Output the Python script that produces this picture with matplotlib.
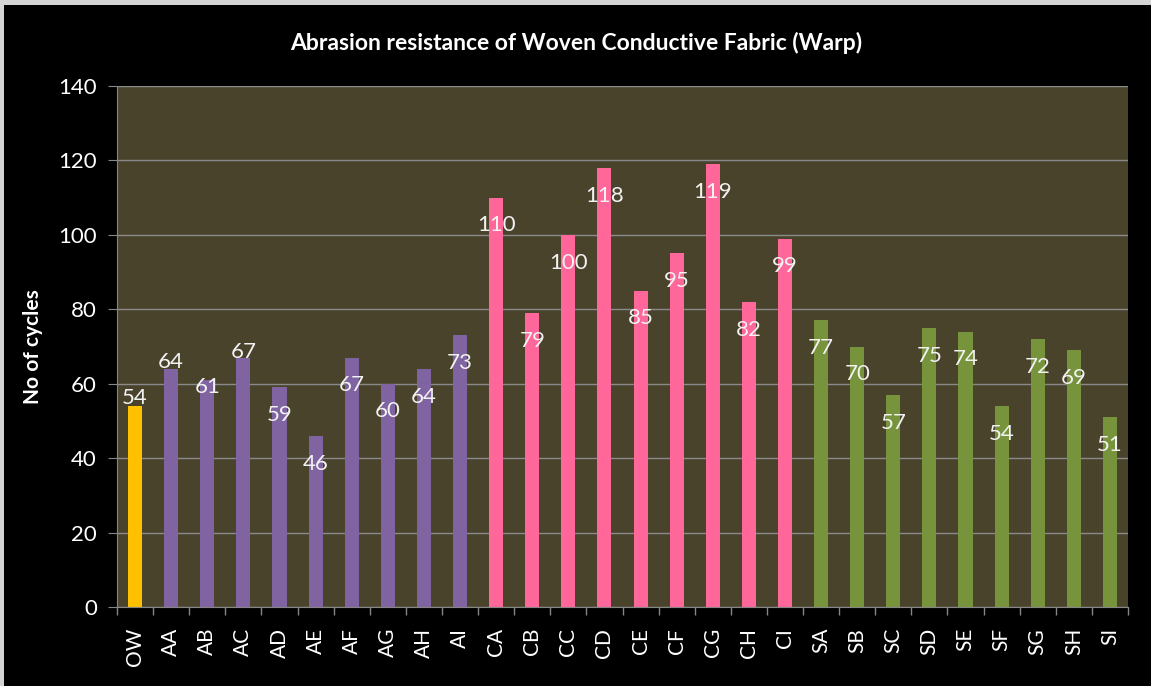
import matplotlib.pyplot as plt
from matplotlib.patches import Rectangle

plt.rcParams['font.family'] = ['Lato', 'DejaVu Sans']

samples = ['OW', 'AA', 'AB', 'AC', 'AD', 'AE', 'AF', 'AG', 'AH', 'AI',
           'CA', 'CB', 'CC', 'CD', 'CE', 'CF', 'CG', 'CH', 'CI',
           'SA', 'SB', 'SC', 'SD', 'SE', 'SF', 'SG', 'SH', 'SI']
cycles = [54, 64, 61, 67, 59, 46, 67, 60, 64, 73,
          110, 79, 100, 118, 85, 95, 119, 82, 99,
          77, 70, 57, 75, 74, 54, 72, 69, 51]
groups = ['O'] + ['A'] * 9 + ['C'] * 9 + ['S'] * 9

group_colors = {'O': '#FFC000', 'A': '#8064A2', 'C': '#FF6699', 'S': '#77933C'}
# label offsets in points (excel put a few above the bar, the rest inside)
label_dy = [6, 5, -5, 4] + [-20] * 24

fig = plt.figure(figsize=(11.51, 6.86), dpi=100)
fig.patch.set_facecolor('#d4d4d4')
fig.patches.append(Rectangle((4 / 1151, 0), 1, 1 - 5 / 686, transform=fig.transFigure,
                             facecolor='black', edgecolor='none', zorder=-10))

ax = fig.add_axes([117 / 1151, 1 - 607 / 686, (1128 - 117) / 1151, (607 - 86) / 686])
ax.set_zorder(1)
ax.set_facecolor('#4A432C')

x = list(range(len(samples)))
colors = [group_colors[g] for g in groups]
ax.bar(x, cycles, width=0.39, color=colors, zorder=3)

for xi, v, dy in zip(x, cycles, label_dy):
    ax.annotate(str(v), (xi, v), xytext=(0, dy), textcoords='offset points',
                ha='center', va='center', color='#f2f2f2', fontsize=16, zorder=4)

ax.set_xlim(-0.5, len(samples) - 0.5)
ax.set_ylim(0, 140)
ax.set_yticks(range(0, 141, 20))
ax.set_xticks(x)
ax.set_xticklabels(samples, rotation=90, color='white', fontsize=15)
ax.set_xticks([i - 0.5 for i in range(len(samples) + 1)], minor=True)
ax.tick_params(axis='x', which='major', length=0, pad=15)
ax.tick_params(axis='x', which='minor', length=6, color='#868686', width=1)
ax.tick_params(axis='y', length=6.5, color='#868686', labelcolor='white', labelsize=16, pad=8)

ax.grid(axis='y', color='#8a8a8a', linewidth=1, zorder=1)
for s in ['top', 'right']:
    ax.spines[s].set_visible(False)
for s in ['left', 'bottom']:
    ax.spines[s].set_color('#868686')
    ax.spines[s].set_zorder(5)

ax.set_ylabel('No of cycles', color='white', fontsize=15, fontweight='bold')
ax.yaxis.set_label_coords(-0.073, 0.5)
fig.text(0.501, 1 - 43 / 686, 'Abrasion resistance of Woven Conductive Fabric (Warp)',
         ha='center', va='center', color='white', fontsize=16.5, fontweight='bold')

plt.savefig('out.png', dpi=100, facecolor=fig.get_facecolor())
plt.close()
